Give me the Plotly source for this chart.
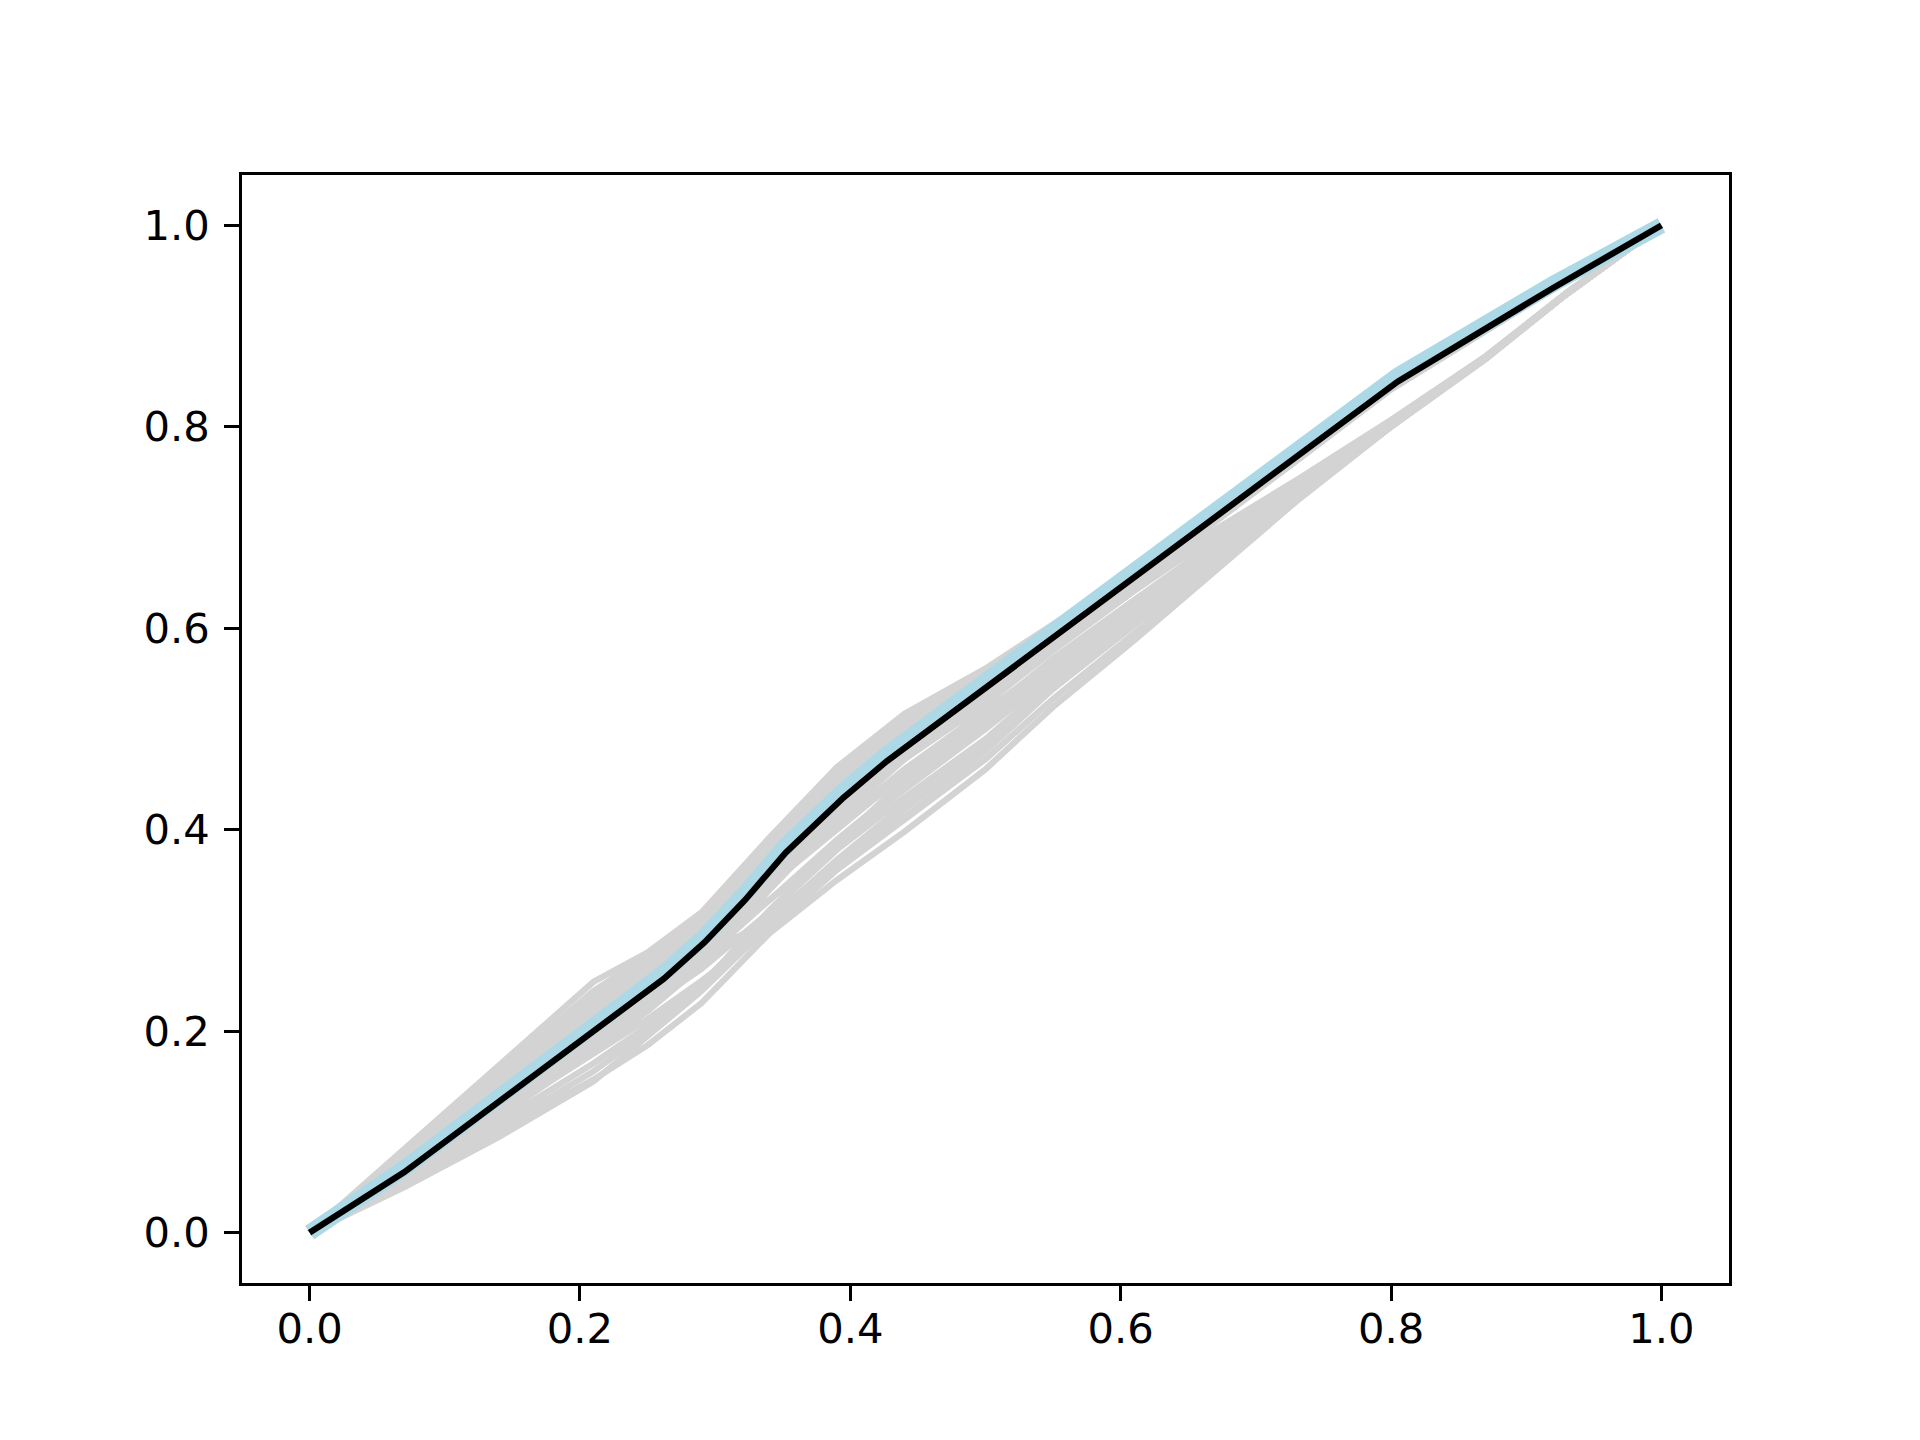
import plotly.graph_objects as go

# Shared x grid of the grey (bootstrap) curves
grey_x = [0, 0.07, 0.14, 0.21, 0.25, 0.29, 0.34, 0.39, 0.44, 0.50, 0.55, 0.61, 0.67, 0.73, 0.80, 0.87, 0.93, 1.0]

grey_upper = [
    [0, .083, .166, .249, .278, .318, .392, .462, .515, .560, .604, .655, .712, .771, .840, .898, .946, 1],
    [0, .075, .150, .228, .268, .310, .383, .450, .505, .553, .598, .652, .710, .769, .839, .897, .946, 1],
    [0, .066, .134, .206, .250, .296, .368, .436, .490, .546, .594, .650, .709, .768, .838, .896, .945, 1],
    [0, .055, .115, .180, .220, .265, .340, .410, .470, .532, .585, .645, .706, .766, .837, .895, .945, 1],
    [0, .062, .122, .190, .232, .280, .352, .420, .476, .537, .588, .648, .708, .767, .838, .896, .945, 1],
    [0, .070, .140, .213, .258, .302, .376, .444, .498, .550, .596, .651, .710, .769, .839, .897, .946, 1],
    [0, .078, .156, .236, .272, .312, .386, .455, .506, .556, .600, .653, .711, .770, .839, .897, .946, 1],
    [0, .058, .118, .185, .226, .272, .346, .416, .472, .535, .587, .646, .707, .766, .838, .896, .945, 1],
]

grey_lower = [
    [0, .050, .100, .152, .186, .228, .297, .350, .398, .460, .522, .588, .657, .726, .800, .867, .932, 1],
    [0, .058, .118, .178, .212, .250, .300, .360, .410, .470, .530, .595, .662, .728, .800, .868, .932, 1],
    [0, .070, .140, .210, .245, .275, .310, .370, .425, .485, .540, .603, .668, .731, .801, .868, .932, 1],
    [0, .078, .155, .232, .268, .300, .330, .385, .440, .500, .553, .612, .673, .734, .802, .869, .932, 1],
    [0, .065, .130, .195, .230, .270, .330, .390, .445, .505, .560, .620, .680, .737, .802, .869, .933, 1],
    [0, .052, .104, .160, .200, .245, .320, .385, .450, .515, .570, .628, .685, .740, .804, .869, .933, 1],
    [0, .060, .122, .186, .228, .275, .350, .415, .470, .525, .578, .637, .692, .744, .806, .870, .933, 1],
    [0, .072, .145, .220, .262, .305, .375, .440, .495, .545, .585, .645, .698, .747, .807, .870, .933, 1],
    [0, .080, .160, .240, .275, .315, .385, .455, .510, .556, .596, .640, .690, .742, .805, .869, .933, 1],
    [0, .068, .136, .205, .252, .300, .372, .435, .480, .520, .560, .615, .672, .732, .801, .868, .932, 1],
    [0, .055, .110, .168, .205, .248, .312, .368, .412, .478, .540, .605, .670, .730, .800, .868, .932, 1],
    [0, .062, .125, .190, .225, .262, .318, .380, .432, .490, .548, .610, .675, .735, .801, .869, .932, 1],
    [0, .045, .095, .150, .195, .240, .305, .362, .420, .485, .545, .608, .670, .731, .800, .868, .932, 1],
    [0, .075, .150, .225, .255, .290, .345, .400, .455, .510, .560, .618, .678, .736, .802, .869, .932, 1],
    [0, .064, .128, .196, .240, .285, .355, .405, .460, .518, .566, .625, .683, .739, .803, .869, .933, 1],
]

# Light blue curve
blue_x = [0, 0.07, 0.262, 0.292, 0.322, 0.352, 0.395, 0.427, 0.805, 0.87, 0.92, 1.0]
blue_y = [0, 0.064, 0.258, 0.294, 0.337, 0.384, 0.439, 0.475, 0.851, 0.902, 0.942, 1.0]

# Black curve
black_x = [0, 0.07, 0.262, 0.292, 0.322, 0.352, 0.395, 0.427, 0.805, 0.87, 0.92, 1.0]
black_y = [0, 0.060, 0.252, 0.288, 0.330, 0.377, 0.432, 0.468, 0.845, 0.897, 0.938, 1.0]

tick_vals = [0.0, 0.2, 0.4, 0.6, 0.8, 1.0]
tick_text = ["0.0", "0.2", "0.4", "0.6", "0.8", "1.0"]

fig = go.Figure()
for ys in grey_upper + grey_lower:
    fig.add_trace(go.Scatter(x=grey_x, y=ys, mode="lines",
                             line=dict(color="#d3d3d3", width=6.25),
                             showlegend=False, hoverinfo="skip"))
fig.add_trace(go.Scatter(x=blue_x, y=blue_y, mode="lines",
                         line=dict(color="#add8e6", width=16),
                         showlegend=False))
fig.add_trace(go.Scatter(x=black_x, y=black_y, mode="lines",
                         line=dict(color="black", width=6.25),
                         showlegend=False))

axis_common = dict(
    range=[-0.05, 1.05],
    tickvals=tick_vals, ticktext=tick_text,
    showgrid=False, zeroline=False,
    showline=True, linecolor="black", linewidth=3.33, mirror=True,
    ticks="outside", ticklen=14.6, tickwidth=3.33, tickcolor="black",
    tickfont=dict(family="DejaVu Sans", size=41.7, color="black"),
)

fig.update_layout(
    width=1920, height=1440,
    margin=dict(l=234, r=199, t=167, b=165),
    paper_bgcolor="white", plot_bgcolor="white",
    xaxis=dict(axis_common, ticklabelstandoff=-8),
    yaxis=dict(axis_common, ticklabelstandoff=6),
)

fig.write_html("out.html")
